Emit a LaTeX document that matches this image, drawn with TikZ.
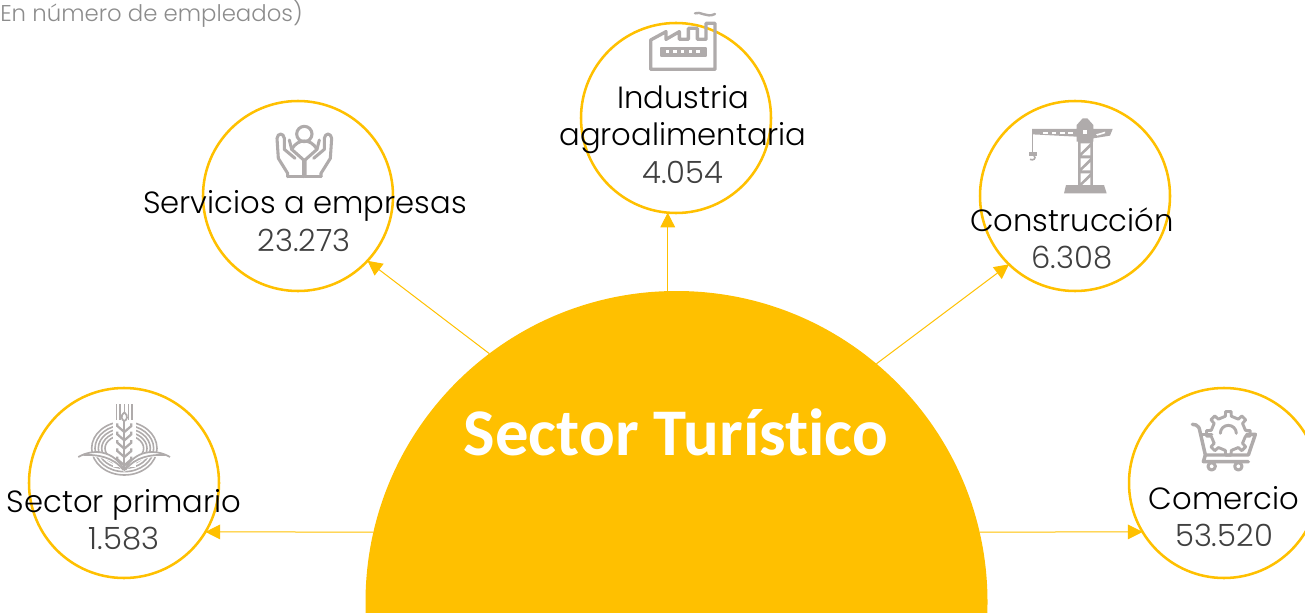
\documentclass[tikz,border=0pt]{standalone}
\usepackage{fontspec}
\usetikzlibrary{arrows.meta}
\setmainfont{Poppins Light}
\newfontfamily\titlefont{Carlito}[Ligatures=CommonOff,BoldFont={Carlito Bold},BoldFeatures={Ligatures=CommonOff}]
\definecolor{gold}{HTML}{FFC000}
\definecolor{icongray}{HTML}{AFABAB}
\definecolor{numgray}{HTML}{404040}
\definecolor{subgray}{HTML}{8C8C8C}
\tikzset{
  catring/.style={circle,draw=gold,line width=1.9pt,minimum size=142.5pt,inner sep=0pt,outer sep=0pt},
  catlink/.style={draw=gold,line width=0.75pt,-{Triangle[length=11pt,width=11pt]}},
  catlabel/.style={anchor=base,font=\fontsize{23pt}{23pt}\selectfont,text=black,inner sep=0pt},
  catnum/.style={anchor=base,font=\fontsize{23pt}{23pt}\selectfont,text=numgray,inner sep=0pt},
  glyph/.style={draw=icongray,line width=2.3pt,line join=round,line cap=round},
  zoomed/.style={x=0.25pt,y=-0.25pt}
}
\begin{document}
\begin{tikzpicture}[x=0.75pt,y=-0.75pt]
\useasboundingbox (0,0) rectangle (1305,613);
\clip (0,0) rectangle (1305,613);
\node[circle,fill=gold,minimum size=466.5pt,inner sep=0pt,outer sep=0pt] (sun) at (676.5,602) {};
\node[catring] (serv) at (298,196) {};
\node[catring] (ind) at (676,118) {};
\node[catring] (cons) at (1075,196) {};
\node[catring] (prim) at (124,483) {};
\node[catring] (com) at (1224,483) {};
\draw[catlink] (sun.127.7) -- (serv.-43.7);
\draw[catlink] (ind.265.8 |- sun.north) -- (ind.265.8);
\draw[catlink] (sun.50.0) -- (cons.226.2);
\draw[catlink] (sun.167.0) -- (prim.-31.7);
\draw[catlink] (sun.13.5) -- (com.211.7);

% factory
\begin{scope}[shift={(560,0)},zoomed]
\draw[glyph,line width=2.5pt] (272,208) -- (272,120) -- (318,95) -- (318,118) -- (358,95) -- (358,118) -- (385,118) -- (385,85) -- (412,85) -- (412,118) -- (438,118) -- (438,70) -- (465,70) -- (465,208) -- cycle;
\draw[glyph,line width=1.5pt,fill=icongray] (303,143) rectangle (438,168);
\foreach \q in {322,345,368,391,414}
  \fill[white] (\q-5,151) rectangle (\q+5,160);
\draw[glyph,line width=1.8pt] (405,40) .. controls (420,32) and (440,55) .. (465,42);
\end{scope}

% hands
\begin{scope}[shift={(240,110)},zoomed]
\draw[glyph] (193,72) circle (23);
\draw[glyph] (155,118) .. controls (165,100) and (180,93) .. (193,93) .. controls (206,93) and (221,100) .. (231,118);
\foreach \m in {1,-1}{
  \begin{scope}[shift={(193,0)},xscale=\m]
  \draw[glyph] (50,200) -- (50,190) -- (78,145) -- (82,85) .. controls (80,68) and (62,68) .. (60,85) -- (60,118) -- (28,145);
  \draw[glyph] (45,90) -- (38,118) -- (2,150) -- (2,200);
  \draw[glyph] (50,200) -- (2,200);
  \end{scope}}
\end{scope}

% crane
\begin{scope}[shift={(1010,105)},zoomed]
\fill[icongray] (205,100) rectangle (248,240);
\foreach \q/\r in {115/150,160/195,205/235}{
  \fill[white] (212,\q) -- (240,\q) -- (212,\q+28) -- cycle;
  \fill[white] (241,\q+12) -- (241,\q+36) -- (216,\q+36) -- cycle;}
\fill[icongray] (168,240) -- (282,240) -- (290,265) -- (162,265) -- cycle;
\fill[icongray] (66,72) -- (200,72) -- (200,60) -- (218,40) -- (232,40) -- (250,60) -- (250,72) -- (308,72) -- (300,92) -- (250,100) -- (250,110) -- (200,110) -- (200,95) -- (66,88) -- cycle;
\fill[white] (219,75) rectangle (231,87);
\foreach \q in {100,125,150,175}
  \fill[white] (\q,82) rectangle (\q+14,88);
\fill[white] (258,88) -- (285,80) -- (285,85) -- (262,92) -- cycle;
\draw[icongray,line width=1pt] (68,88) -- (68,142);
\fill[icongray] (58,142) rectangle (80,152);
\draw[icongray,line width=1.2pt] (72,152) .. controls (80,160) and (70,168) .. (60,163);
\end{scope}

% wheat
\begin{scope}[shift={(60,395)},zoomed]
\foreach \k in {0,...,4}
  \draw[icongray,line width=1.2pt] (193,160) ellipse ({98-10*\k} and {80-10*\k});
\fill[white] (158,60) rectangle (228,215);
\fill[white] (55,185) .. controls (100,160) and (160,165) .. (193,225) .. controls (225,165) and (285,160) .. (330,185) -- (330,192) .. controls (290,175) and (230,190) .. (193,232) .. controls (155,190) and (95,175) .. (55,190) -- cycle;
\draw[icongray,line width=1.3pt] (55,186) .. controls (100,160) and (160,165) .. (193,225) .. controls (225,165) and (285,160) .. (330,186);
\draw[icongray,line width=1.3pt] (70,180) .. controls (110,178) and (160,185) .. (190,225);
\draw[icongray,line width=1.3pt] (315,180) .. controls (275,178) and (225,185) .. (196,225);
\foreach \q in {170,180,193,206,216}
  \draw[icongray,line width=1.2pt] (\q,28) -- (\q,75);
\fill[white] (183,50) rectangle (203,78);
\draw[icongray,line width=1.3pt] (193,52) .. controls (180,62) and (185,75) .. (193,78) .. controls (201,75) and (206,62) .. (193,52);
\draw[icongray,line width=1.3pt] (193,78) -- (193,225);
\foreach \q in {85,110,135,160,185}{
  \draw[icongray,line width=1.7pt] (172,\q) -- (172,\q+8) -- (193,\q+26) -- (214,\q+8) -- (214,\q);}
\end{scope}

% cart with gear
\begin{scope}[shift={(1170,405)},zoomed]
\begin{scope}[shift={(175,85)}]
\draw[glyph,line width=2.2pt] (-10:52)
  \foreach \a in {0,45,...,315}{
    -- (\a-10:52) -- (\a-7:66) -- (\a+7:66) -- (\a+10:52) -- (\a+35:52)} -- cycle;
\draw[glyph,line width=2.2pt] (180:24) arc (180:360:24);
\end{scope}
\draw[glyph,line width=2.6pt] (67,58) -- (78,60) .. controls (86,62) and (88,70) .. (90,80) -- (106,150) -- (100,170) -- (235,170);
\draw[glyph,line width=2.6pt] (92,88) -- (125,88);
\draw[glyph,line width=2.6pt] (230,88) -- (256,88) -- (235,150) -- (106,150);
\draw[glyph] (125,184) circle (11);
\draw[glyph] (205,184) circle (11);
\end{scope}

\node[anchor=base west,font=\fontsize{17.1pt}{17.1pt}\selectfont,text=subgray,inner sep=0pt] (sub) at (0,22) {En número de empleados)};
\node[anchor=base,font=\titlefont\bfseries\fontsize{50pt}{50pt}\selectfont,text=white,inner sep=0pt] (title) at (676,455) {Sector Turístico};
\node[catlabel] (t1) at (305,213) {Servicios a empresas};
\node[catnum] (n1) at (304,251) {23.273};
\node[catlabel] (t2a) at (683,109) {Industria};
\node[catlabel] (t2b) at (683,146) {agroalimentaria};
\node[catnum] (n2) at (683,183) {4.054};
\node[catlabel] (t3) at (1072,231) {Construcción};
\node[catnum] (n3) at (1072,268) {6.308};
\node[catlabel] (t4) at (124,512) {Sector primario};
\node[catnum] (n4) at (124,549) {1.583};
\node[catlabel] (t5) at (1224,509) {Comercio};
\node[catnum] (n5) at (1224,546) {53.520};
\end{tikzpicture}
\end{document}
